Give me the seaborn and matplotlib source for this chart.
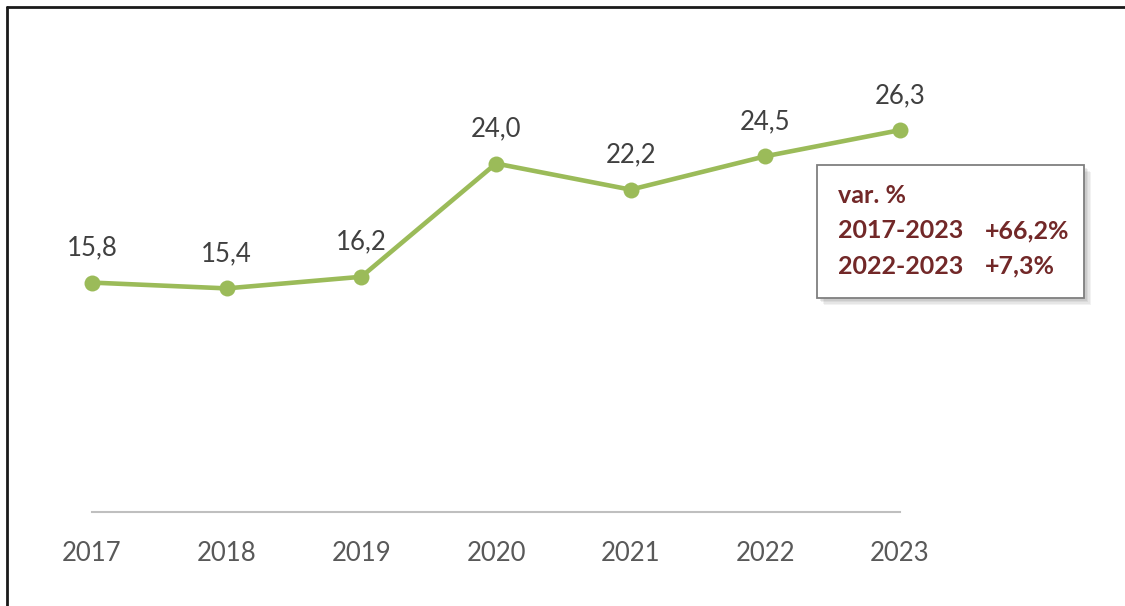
import matplotlib
matplotlib.use("Agg")
import matplotlib.pyplot as plt
import seaborn as sns
import pandas as pd
from matplotlib.patches import Rectangle
from matplotlib.lines import Line2D

years = [2017, 2018, 2019, 2020, 2021, 2022, 2023]
values = [15.8, 15.4, 16.2, 24.0, 22.2, 24.5, 26.3]
value_labels = ["15,8", "15,4", "16,2", "24,0", "22,2", "24,5", "26,3"]
box_title = "var. %"
box_rows = [("2017-2023", "+66,2%"), ("2022-2023", "+7,3%")]

sns.set_theme(style="white")
plt.rcParams['font.family'] = ['Lato', 'DejaVu Sans']

W, H = 1125, 606
fig = plt.figure(figsize=(W / 100, H / 100), dpi=100)
fig.patch.set_facecolor("white")

ymax = 30.0
px_per_unit = 14.52
y0 = 512
ytop = y0 - ymax * px_per_unit
ax = fig.add_axes([92 / W, (H - y0) / H, (900 - 92) / W, (y0 - ytop) / H])

df = pd.DataFrame({"year": years, "value": values})
green = "#9BBB59"
sns.lineplot(data=df, x="year", y="value", ax=ax, color=green, linewidth=3.3,
             marker="o", markersize=11.5, markeredgewidth=0, markerfacecolor=green)
for ln in ax.lines:
    ln.set_clip_on(False)

ax.set_xlim(years[0], years[-1])
ax.set_ylim(0, ymax)
ax.set_xlabel("")
ax.set_ylabel("")
ax.set_yticks([])
ax.set_xticks(years)
ax.set_xticklabels([str(y) for y in years], fontsize=18.5, color="#595959")
ax.tick_params(axis="x", length=0, pad=21)
for s in ["top", "right", "left"]:
    ax.spines[s].set_visible(False)
ax.spines["bottom"].set_color("#BFBFBF")
ax.spines["bottom"].set_linewidth(1.5)
ax.patch.set_alpha(0)

for x, v, lab in zip(years, values, value_labels):
    ax.annotate(lab, (x, v), xytext=(0, 25), textcoords="offset points",
                ha="center", va="center", fontsize=18.5, color="#404040")

# figure border (top and left)
fig.add_artist(Line2D([7 / W, 7 / W], [0, 1 - 7 / H], color="#1a1a1a", lw=2.0))
fig.add_artist(Line2D([7 / W, 1], [1 - 7 / H, 1 - 7 / H], color="#1a1a1a", lw=2.0))

# text box with shadow
bx0, by0, bx1, by1 = 817, 165, 1084, 298
for i, a in enumerate([0.10, 0.10, 0.12, 0.15]):
    off = 7 - i * 1.5
    fig.add_artist(Rectangle(((bx0 + off) / W, (H - by1 - off) / H), (bx1 - bx0) / W, (by1 - by0) / H,
                             facecolor="#808080", edgecolor="none", alpha=a))
fig.add_artist(Rectangle((bx0 / W, (H - by1) / H), (bx1 - bx0) / W, (by1 - by0) / H,
                         facecolor="white", edgecolor="#7F7F7F", lw=1.3))
red = "#722828"
fs_box = 18
fig.text(838 / W, 1 - 196 / H, box_title, fontsize=fs_box, fontweight="bold", color=red, va="center", ha="left")
for i, (period, pct) in enumerate(box_rows):
    yy = 1 - (231 + 35 * i) / H
    fig.text(838 / W, yy, period, fontsize=fs_box, fontweight="bold", color=red, va="center", ha="left")
    fig.text(985 / W, yy, pct, fontsize=fs_box, fontweight="bold", color=red, va="center", ha="left")

fig.savefig("out.png", dpi=100, facecolor="white")
